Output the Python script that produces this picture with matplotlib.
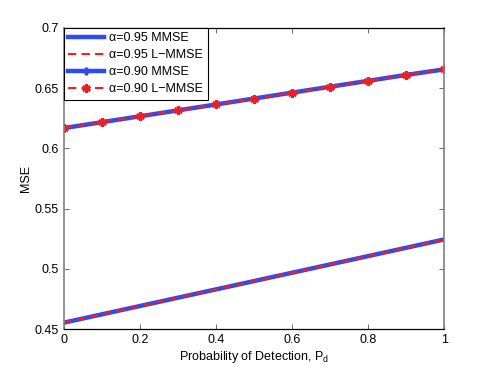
import matplotlib
matplotlib.use("Agg")
import matplotlib.pyplot as plt

# probability of detection
pd_vals = [0.0, 0.1, 0.2, 0.3, 0.4, 0.5, 0.6, 0.7, 0.8, 0.9, 1.0]

# alpha = 0.95
mmse_095 = [0.4555, 0.4624, 0.4693, 0.4762, 0.4831, 0.4900, 0.4969, 0.5038, 0.5107, 0.5176, 0.5245]
lmmse_095 = [0.4555, 0.4624, 0.4693, 0.4762, 0.4831, 0.4900, 0.4969, 0.5038, 0.5107, 0.5176, 0.5245]

# alpha = 0.90
mmse_090 = [0.6168, 0.6217, 0.6266, 0.6315, 0.6364, 0.6413, 0.6462, 0.6511, 0.6560, 0.6609, 0.6655]
lmmse_090 = [0.6168, 0.6217, 0.6266, 0.6315, 0.6364, 0.6413, 0.6462, 0.6511, 0.6560, 0.6609, 0.6655]

x_ticks = [0, 0.2, 0.4, 0.6, 0.8, 1.0]
x_ticklabels = ["0", "0.2", "0.4", "0.6", "0.8", "1"]
y_ticks = [0.45, 0.5, 0.55, 0.6, 0.65, 0.7]
y_ticklabels = ["0.45", "0.5", "0.55", "0.6", "0.65", "0.7"]

legend_labels = [
    "α=0.95 MMSE",
    "α=0.95 L\u2212MMSE",
    "α=0.90 MMSE",
    "α=0.90 L\u2212MMSE",
]

plt.rcParams["font.family"] = ["Liberation Sans", "DejaVu Sans"]
plt.rcParams["mathtext.fontset"] = "custom"
plt.rcParams["mathtext.rm"] = "Liberation Sans"

blue = "#2a4bf5"
red = "#ff1a1a"

fig = plt.figure(figsize=(4.91, 3.70), dpi=100)
ax = fig.add_axes([0.13, 0.11, 0.775, 0.815])

ax.plot(pd_vals, mmse_095, color=blue, lw=3.2, label=legend_labels[0])
ax.plot(pd_vals, lmmse_095, color=red, lw=1.5, ls=(0, (4, 2.5)), label=legend_labels[1])
ax.plot(pd_vals, mmse_090, color=blue, lw=3.2, marker="+", ms=6, mew=2.5,
        label=legend_labels[2])
ax.plot(pd_vals, lmmse_090, color=red, lw=1.5, ls=(0, (4, 2.5)), marker=(6, 2, 0),
        ms=6, mew=2.0, label=legend_labels[3])

ax.set_xlim(0, 1)
ax.set_ylim(0.45, 0.7)
ax.set_xticks(x_ticks)
ax.set_xticklabels(x_ticklabels)
ax.set_yticks(y_ticks)
ax.set_yticklabels(y_ticklabels)
ax.tick_params(direction="in", top=True, right=True, labelsize=9, length=3.5,
               width=0.6, colors="#555555", labelcolor="black")

for side in ["left", "right"]:
    ax.spines[side].set_color("#808080")
    ax.spines[side].set_linewidth(1.2)
for side in ["top", "bottom"]:
    ax.spines[side].set_color("black")
    ax.spines[side].set_linewidth(0.9)

ax.set_xlabel("Probability of Detection, P$_{\\mathrm{d}}$", fontsize=9, labelpad=2)
ax.set_ylabel("MSE", fontsize=9, labelpad=2)

leg = ax.legend(loc="upper left", fontsize=9, fancybox=False, framealpha=1,
                edgecolor="black", borderaxespad=0, handlelength=2.9,
                handletextpad=0.4, labelspacing=0.4, borderpad=0.35, numpoints=1)
leg.get_frame().set_linewidth(0.8)

fig.savefig("out.png", dpi=100)
